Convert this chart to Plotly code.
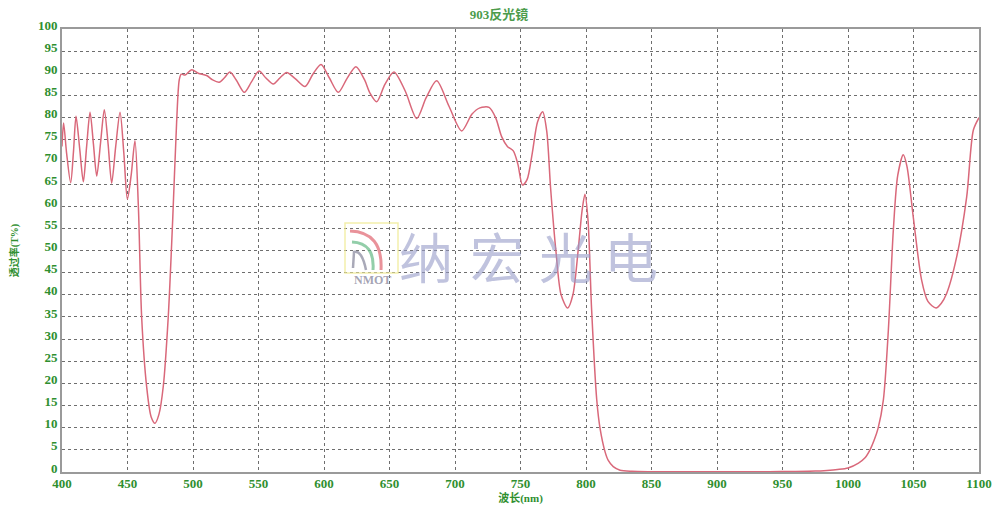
import plotly.graph_objects as go

# ---- data ----
wavelength = [400, 401.2, 403.5, 406.6, 408.8, 410.7, 413.5, 416.3, 418.8, 421.4, 424, 426.5,
              429.5, 432.3, 435.2, 437.9, 441, 444.3, 447.2, 449.9, 452.8, 455.7, 458.3, 460.8,
              464.6, 468, 471, 474, 477.3, 481.1, 484.5, 487.5, 489.5, 491, 494, 499, 504,
              510.4, 515, 520, 524, 528.2, 533, 539.2, 544.5, 550.4, 555.5, 561.3, 566.5,
              571.5, 578, 585.5, 591.5, 597.7, 604, 610.9, 617.5, 624.4, 631, 635, 640.2,
              646.5, 653.4, 662, 670.8, 678, 686, 695.5, 705.1, 713, 719, 726, 731, 735.6,
              740, 744.5, 748, 751.5, 755, 759, 763, 766.9, 770, 773, 777, 781, 786, 790,
              794, 797, 799.2, 801.5, 804.3, 808.2, 810.7, 814.5, 817, 820.8, 826, 835, 850,
              880, 910, 940, 960, 975, 984, 992, 1000, 1008, 1013, 1016.8, 1020, 1023, 1027,
              1030.8, 1034.6, 1038, 1042.2, 1045, 1049.8, 1056.2, 1061, 1067.2, 1071, 1075.3,
              1083, 1090.6, 1095.7, 1100]
transmittance = [73.5, 78.8, 72, 65.3, 72.5, 80.3, 73, 65.5, 73.5, 81.2, 74, 66.8,
                 74.5, 81.8, 74, 65.2, 73.5, 81.2, 72, 61.6, 67, 74.8, 60, 35,
                 19.3, 12.5, 11, 13, 19.3, 35, 57, 79, 88.5, 89.8, 89.6, 90.8, 90,
                 89.5, 88.5, 88.0, 89, 90.3, 88.5, 85.7, 88, 90.5, 89, 87.6, 89,
                 90.2, 88.8, 87, 89.8, 92.0, 89, 85.7, 88.8, 91.5, 88.5, 85.6, 83.6,
                 87.5, 90.3, 86, 79.8, 84.5, 88.3, 82.5, 77, 80.8, 82.2, 82.3, 80, 75.7,
                 73.5, 72.5, 69.5, 64.8, 66, 72, 79, 81.3, 77, 64, 50, 40, 37, 40,
                 50, 59, 62.7, 57, 36.6, 16.3, 9.9, 4.6, 2.6, 1.2, 0.4, 0.15, 0.08,
                 0.06, 0.06, 0.08, 0.12, 0.2, 0.35, 0.55, 0.9, 2.0, 3.2, 5.0, 7.2, 9.9, 16.3,
                 32, 54.6, 67, 71.6, 69, 57.6, 43.3, 38.5, 37, 38, 40.3,
                 48.6, 62.1, 77.2, 80]

x_ticks = list(range(400, 1101, 50))
y_ticks = list(range(0, 101, 5))

title_text = "903反光镜"
x_title = "波长(nm)"
y_title = "透过率(T%)"
watermark_chars = ["纳", "宏", "光", "电"]
logo_text = "NMOT"

GREEN = "#2f8f2f"
TITLE_GREEN = "#4c9c4c"
LINE = "#d9687a"
FONT = "Liberation Serif, Noto Sans CJK SC, serif"

fig = go.Figure()
fig.add_trace(go.Scatter(
    x=wavelength, y=transmittance, mode="lines",
    line=dict(color=LINE, width=1.5, shape="spline", smoothing=0.8),
    hoverinfo="skip", showlegend=False))

# the page body adds an 8px margin, so the figure is drawn 8px smaller
OFF = 8
W, H = 1000 - OFF, 514 - OFF
# plot area in screen pixels: left 62, right 979, top 29, bottom 472
L, R, T, B = 62, 979, 29, 472
def px(xp):
    return (xp - L) / (R - L)
def py(yp):
    return (B - yp) / (B - T)

shapes = []
shapes.append(dict(type="rect", xref="paper", yref="paper", x0=px(345), x1=px(398),
                   y0=py(273), y1=py(223), line=dict(color="rgba(240,235,150,0.8)", width=1.5),
                   fillcolor="rgba(0,0,0,0)", layer="above"))
def arc(x0, y0, cx, cy, x1, y1, color, w):
    return dict(type="path", xref="paper", yref="paper",
                path=f"M {px(x0)} {py(y0)} Q {px(cx)} {py(cy)} {px(x1)} {py(y1)}",
                line=dict(color=color, width=w), layer="above")
shapes.append(arc(350, 231, 383, 232, 381, 270, "rgba(225,110,120,0.75)", 3))
shapes.append(arc(352, 242, 375, 243, 373, 270, "rgba(110,190,140,0.75)", 3))
shapes.append(dict(type="path", xref="paper", yref="paper",
                   path=f"M {px(353)} {py(268)} L {px(354)} {py(252)} Q {px(362)} {py(250)} {px(366)} {py(270)}",
                   line=dict(color="rgba(140,140,160,0.75)", width=2.5), layer="above"))

annotations = []
for ch, xc in zip(watermark_chars, [426, 497, 566, 631]):
    annotations.append(dict(text=ch, xref="paper", yref="paper", x=px(xc), y=py(256),
                            showarrow=False, xanchor="center", yanchor="middle",
                            font=dict(family="Noto Sans CJK SC", size=54, color="rgba(150,155,200,0.6)")))
annotations.append(dict(text=f"<b>{logo_text}</b>", xref="paper", yref="paper", x=px(372), y=py(280),
                        showarrow=False, xanchor="center", yanchor="middle",
                        font=dict(family="Liberation Serif", size=12, color="rgba(140,140,160,0.8)")))

fig.update_layout(
    width=W, height=H,
    margin=dict(l=L - OFF, r=W - (R - OFF), t=T - OFF, b=H - (B - OFF), autoexpand=False),
    paper_bgcolor="white", plot_bgcolor="white",
    title=dict(text=title_text, x=px(499), xref="paper", xanchor="center",
               y=1 - (14 - OFF) / H, yanchor="middle",
               font=dict(family=FONT, size=13, color=TITLE_GREEN, weight="bold")),
    shapes=shapes, annotations=annotations,
    xaxis=dict(range=[400, 1100], tickvals=x_ticks, ticktext=[str(v) for v in x_ticks],
               showgrid=True, gridcolor="#6e6e6e", griddash="dot", gridwidth=1,
               showline=True, linecolor="#9a9a9a", linewidth=2, mirror=True,
               zeroline=False, ticks="", ticklabelstandoff=-2,
               tickfont=dict(family=FONT, size=13, color=GREEN, weight="bold"),
               title=dict(text=x_title, standoff=2,
                          font=dict(family=FONT, size=11, color=GREEN, weight="bold"))),
    yaxis=dict(range=[0, 100], tickvals=y_ticks, ticktext=[str(v) for v in y_ticks],
               showgrid=True, gridcolor="#6e6e6e", griddash="dot", gridwidth=1,
               showline=True, linecolor="#9a9a9a", linewidth=2, mirror=True,
               zeroline=False, ticks="", ticklabelstandoff=0, ticklabelshift=-4,
               tickfont=dict(family=FONT, size=13, color=GREEN, weight="bold"),
               title=dict(text=y_title, standoff=24,
                          font=dict(family=FONT, size=10, color=GREEN, weight="bold"))),
)

fig.write_html("out.html")
